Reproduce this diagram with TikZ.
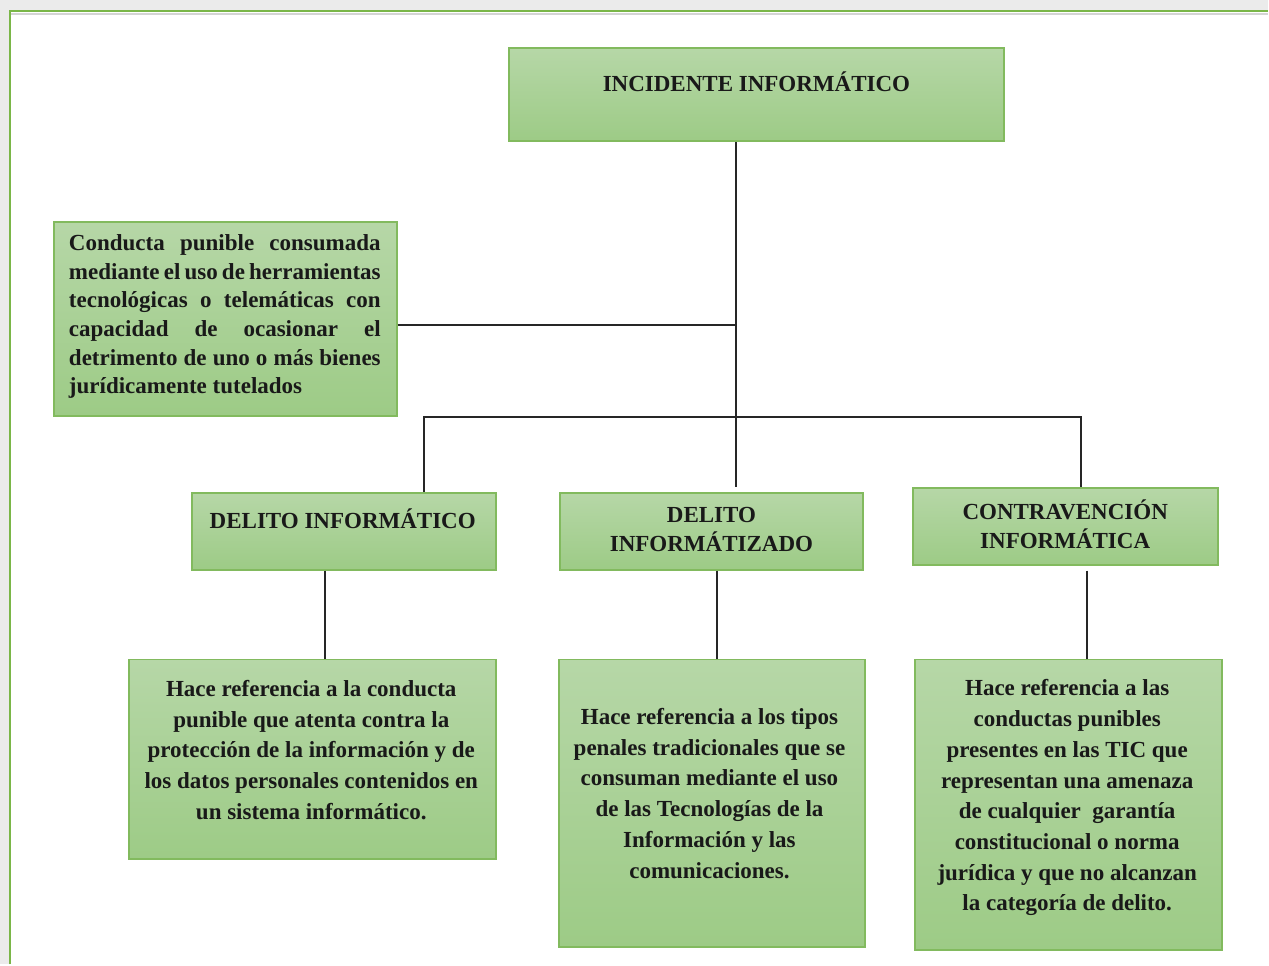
\documentclass[tikz,border=0pt]{standalone}
\usepackage{fontspec}
\setmainfont{Liberation Serif}
\usetikzlibrary{positioning}

\definecolor{boxtop}{RGB}{182,215,167}
\definecolor{boxbottom}{RGB}{157,203,134}
\definecolor{boxline}{RGB}{130,186,94}
\definecolor{framegreen}{RGB}{122,182,72}

\begin{document}
\begin{tikzpicture}[
    x=0.02cm, y=-0.02cm,
    box/.style={draw=boxline, line width=1.1pt, top color=boxtop, bottom color=boxbottom, inner sep=0pt},
    boxtext/.style={font=\bfseries\fontsize{13.1pt}{16.3pt}\selectfont, text=black!90, align=center, inner sep=0pt},
    desctext/.style={boxtext, font=\bfseries\fontsize{13.1pt}{17.5pt}\selectfont},
    link/.style={line width=1.1pt, black!85},
]
    % Page frame
    \fill[black!8] (0,0) rectangle (1269,965);
    \fill[white] (10,11) rectangle (1269,965);
    \draw[black!17, line width=0.6pt] (11,14) -- (1269,14);
    \draw[framegreen, line width=1.1pt] (10,965) -- (10,11) -- (1269,11);

    % Boxes
    \node[box, minimum width=9.92cm, minimum height=1.86cm] (incidente) at (757,94.5) {};
    \node[box, minimum width=6.86cm, minimum height=3.88cm] (concepto) at (225.5,319) {};
    \node[box, minimum width=6.08cm, minimum height=1.54cm] (delito) at (344,531.5) {};
    \node[box, minimum width=6.08cm, minimum height=1.54cm] (delitoz) at (712,531.5) {};
    \node[box, minimum width=6.10cm, minimum height=1.54cm] (contra) at (1066.5,526.5) {};
    \node[box, minimum width=7.34cm, minimum height=4.00cm] (def1) at (312.5,760) {};
    \node[box, minimum width=6.14cm, minimum height=5.76cm] (def2) at (712.5,804) {};
    \node[box, minimum width=6.14cm, minimum height=5.82cm] (def3) at (1069.5,805.5) {};

    % Box texts
    \node[boxtext] (incidente-txt) at (757,82) {INCIDENTE INFORMÁTICO};
    \node[boxtext, text width=6.24cm, align=justify] (concepto-txt) at (225,317) {Conducta punible consumada\linebreak mediante el uso de herramientas\linebreak tecnológicas o telemáticas con\linebreak capacidad de ocasionar el\linebreak detrimento de uno o más bienes\linebreak jurídicamente tutelados};
    \node[boxtext] (delito-txt) at (343,519) {DELITO INFORMÁTICO};
    \node[boxtext] (delitoz-txt) at (712,530) {DELITO\\INFORMÁTIZADO};
    \node[boxtext] (contra-txt) at (1066,524.5) {CONTRAVENCIÓN\\INFORMÁTICA};
    \node[desctext] (def1-txt) at (311.5,750.5) {Hace referencia a la conducta\\punible que atenta contra la\\protección de la información y de\\los datos personales contenidos en\\un sistema informático.};
    \node[desctext] (def2-txt) at (710,794) {Hace referencia a los tipos\\penales tradicionales que se\\consuman mediante el uso\\de las Tecnologías de la\\Información y las\\comunicaciones.};
    \node[desctext] (def3-txt) at (1068,798.5) {Hace referencia a las\\conductas punibles\\presentes en las TIC que\\representan una amenaza\\de cualquier~ garantía\\constitucional o norma\\jurídica y que no alcanzan\\la categoría de delito.};

    % Connectors
    \coordinate (eje) at (737,417);
    \draw[link] (eje |- incidente.south) -- ([yshift=0.1cm]eje |- delitoz.north);
    \draw[link] ([yshift=-0.12cm]concepto.east) -- ([yshift=-0.12cm]eje |- concepto.east);
    \draw[link] ([xshift=1.6cm]delito.north) |- (eje) -| ([xshift=0.31cm]contra.north);
    \draw[link] ([xshift=-0.38cm]delito.south) -- ([xshift=-0.38cm]delito.south |- def1.north);
    \draw[link] ([xshift=0.12cm]delitoz.south) -- ([xshift=0.12cm]delitoz.south |- def2.north);
    \draw[link] ([xshift=0.43cm,yshift=-0.1cm]contra.south) -- ([xshift=0.43cm]contra.south |- def3.north);
\end{tikzpicture}
\end{document}
